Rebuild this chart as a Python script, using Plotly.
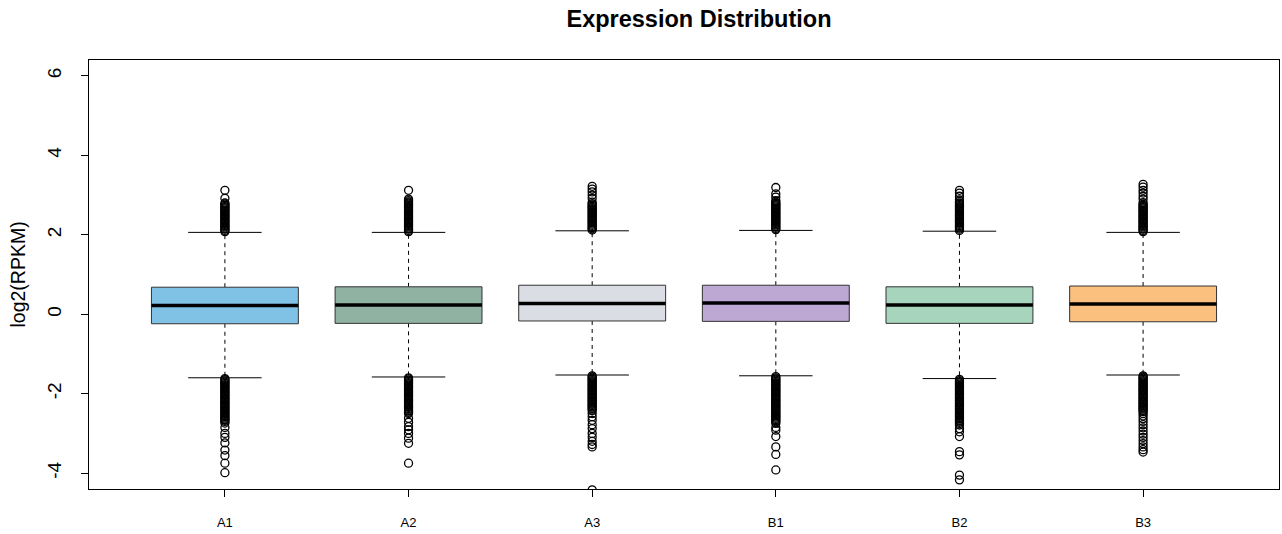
import plotly.graph_objects as go

categories = ["A1", "A2", "A3", "B1", "B2", "B3"]
colors = ["#80C2E6", "#90B2A3", "#DADDE3", "#BDA7D3", "#A7D4BC", "#FBC07E"]

q1 = [-0.24, -0.23, -0.17, -0.18, -0.23, -0.19]
median = [0.22, 0.23, 0.27, 0.28, 0.23, 0.26]
q3 = [0.68, 0.69, 0.73, 0.73, 0.69, 0.71]
upper_whisker = [2.06, 2.06, 2.10, 2.11, 2.09, 2.06]
lower_whisker = [-1.60, -1.58, -1.53, -1.55, -1.62, -1.53]

out_A1 = [2.08, 2.11, 2.14, 2.17, 2.20, 2.23, 2.26, 2.29, 2.32, 2.35, 2.38, 2.41, 2.44, 2.47,
          2.50, 2.53, 2.56, 2.59, 2.62, 2.65, 2.68, 2.71, 2.74, 2.77, 2.80, 2.92, 3.12,
          -1.62, -1.65, -1.68, -1.71, -1.74, -1.77, -1.80, -1.83, -1.86, -1.89, -1.92, -1.95,
          -1.98, -2.01, -2.04, -2.07, -2.10, -2.13, -2.16, -2.19, -2.22, -2.25, -2.28, -2.31,
          -2.34, -2.37, -2.40, -2.43, -2.46, -2.49, -2.52, -2.55, -2.58, -2.61, -2.64, -2.67,
          -2.70, -2.74, -2.85, -3.00, -3.10, -3.24, -3.42, -3.56, -3.75, -3.99]
out_A2 = [2.08, 2.11, 2.14, 2.17, 2.20, 2.23, 2.26, 2.29, 2.32, 2.35, 2.38, 2.41, 2.44, 2.47,
          2.50, 2.53, 2.56, 2.59, 2.62, 2.65, 2.68, 2.71, 2.74, 2.77, 2.80, 2.83, 2.86, 2.90, 3.12,
          -1.60, -1.63, -1.66, -1.69, -1.72, -1.75, -1.78, -1.81, -1.84, -1.87, -1.90, -1.93,
          -1.96, -1.99, -2.02, -2.05, -2.08, -2.11, -2.14, -2.17, -2.20, -2.23, -2.26, -2.29,
          -2.32, -2.35, -2.38, -2.41, -2.44, -2.47, -2.50, -2.62, -2.72, -2.83, -2.91, -3.00,
          -3.12, -3.25, -3.75]
out_A3 = [2.12, 2.15, 2.18, 2.21, 2.24, 2.27, 2.30, 2.33, 2.36, 2.39, 2.42, 2.45, 2.48, 2.51,
          2.54, 2.57, 2.60, 2.63, 2.66, 2.69, 2.72, 2.75, 2.78, 2.82, 2.92, 3.00, 3.08, 3.15, 3.22,
          -1.55, -1.58, -1.61, -1.64, -1.67, -1.70, -1.73, -1.76, -1.79, -1.82, -1.85, -1.88,
          -1.91, -1.94, -1.97, -2.00, -2.03, -2.06, -2.09, -2.12, -2.15, -2.18, -2.21, -2.24,
          -2.27, -2.30, -2.33, -2.36, -2.39, -2.43, -2.50, -2.58, -2.67, -2.78, -2.88, -3.00,
          -3.10, -3.20, -3.28, -3.34, -4.42]
out_B1 = [2.13, 2.16, 2.19, 2.22, 2.25, 2.28, 2.31, 2.34, 2.37, 2.40, 2.43, 2.46, 2.49, 2.52,
          2.55, 2.58, 2.61, 2.64, 2.67, 2.70, 2.73, 2.76, 2.79, 2.82, 2.86, 2.95, 3.03, 3.19,
          -1.57, -1.60, -1.63, -1.66, -1.69, -1.72, -1.75, -1.78, -1.81, -1.84, -1.87, -1.90,
          -1.93, -1.96, -1.99, -2.02, -2.05, -2.08, -2.11, -2.14, -2.17, -2.20, -2.23, -2.26,
          -2.29, -2.32, -2.35, -2.38, -2.41, -2.44, -2.47, -2.50, -2.53, -2.56, -2.59, -2.62,
          -2.65, -2.68, -2.71, -2.75, -2.85, -2.92, -3.08, -3.34, -3.53, -3.92]
out_B2 = [2.11, 2.14, 2.17, 2.20, 2.23, 2.26, 2.29, 2.32, 2.35, 2.38, 2.41, 2.44, 2.47, 2.50,
          2.53, 2.56, 2.59, 2.62, 2.65, 2.68, 2.71, 2.74, 2.77, 2.80, 2.84, 2.88, 2.97, 3.05, 3.12,
          -1.64, -1.67, -1.70, -1.73, -1.76, -1.79, -1.82, -1.85, -1.88, -1.91, -1.94, -1.97,
          -2.00, -2.03, -2.06, -2.09, -2.12, -2.15, -2.18, -2.21, -2.24, -2.27, -2.30, -2.33,
          -2.36, -2.39, -2.42, -2.45, -2.48, -2.51, -2.54, -2.57, -2.60, -2.63, -2.66, -2.69,
          -2.72, -2.75, -2.79, -2.88, -2.96, -3.08, -3.46, -3.54, -4.05, -4.17]
out_B3 = [2.08, 2.11, 2.14, 2.17, 2.20, 2.23, 2.26, 2.29, 2.32, 2.35, 2.38, 2.41, 2.44, 2.47,
          2.50, 2.53, 2.56, 2.59, 2.62, 2.65, 2.68, 2.71, 2.74, 2.77, 2.81, 2.90, 2.97, 3.05,
          3.12, 3.20, 3.27,
          -1.55, -1.58, -1.61, -1.64, -1.67, -1.70, -1.73, -1.76, -1.79, -1.82, -1.85, -1.88,
          -1.91, -1.94, -1.97, -2.00, -2.03, -2.06, -2.09, -2.12, -2.15, -2.18, -2.21, -2.24,
          -2.27, -2.30, -2.33, -2.36, -2.39, -2.42, -2.45, -2.50, -2.56, -2.63, -2.70, -2.78,
          -2.86, -2.94, -3.02, -3.10, -3.18, -3.26, -3.34, -3.41, -3.47]
outliers = [out_A1, out_A2, out_A3, out_B1, out_B2, out_B3]

y_ticks = [-4, -2, 0, 2, 4, 6]
y_range = [-4.4, 6.4]

BOX_HALF = 0.4
CAP_HALF = 0.2

fig = go.Figure()
positions = list(range(1, len(categories) + 1))

# dashed whiskers
wx, wy = [], []
for p, a, b, lo, hi in zip(positions, q1, q3, lower_whisker, upper_whisker):
    wx += [p, p, None, p, p, None]
    wy += [b, hi, None, a, lo, None]
fig.add_trace(go.Scatter(x=wx, y=wy, mode="lines", line=dict(color="black", width=1, dash="4px,4px"),
                         showlegend=False, hoverinfo="skip"))
# caps
cx, cy = [], []
for p, lo, hi in zip(positions, lower_whisker, upper_whisker):
    cx += [p - CAP_HALF, p + CAP_HALF, None, p - CAP_HALF, p + CAP_HALF, None]
    cy += [hi, hi, None, lo, lo, None]
fig.add_trace(go.Scatter(x=cx, y=cy, mode="lines", line=dict(color="black", width=1),
                         showlegend=False, hoverinfo="skip"))

# boxes
for p, a, b, m, col, name in zip(positions, q1, q3, median, colors, categories):
    fig.add_trace(go.Scatter(
        x=[p - BOX_HALF, p + BOX_HALF, p + BOX_HALF, p - BOX_HALF, p - BOX_HALF],
        y=[a, a, b, b, a], mode="lines", fill="toself", fillcolor=col,
        line=dict(color="#333333", width=1), name=name, showlegend=False))
    fig.add_trace(go.Scatter(x=[p - BOX_HALF, p + BOX_HALF], y=[m, m], mode="lines",
                             line=dict(color="black", width=3.5), showlegend=False, hoverinfo="skip"))

# outliers
for p, vals, name in zip(positions, outliers, categories):
    fig.add_trace(go.Scatter(x=[p] * len(vals), y=vals, mode="markers", name=name,
                             marker=dict(symbol="circle-open", size=8, color="black",
                                         line=dict(width=1.3)),
                             showlegend=False, cliponaxis=True))

font_family = "Liberation Sans, Arial, sans-serif"
fig.update_layout(
    width=1282, height=534,
    margin=dict(l=89, r=3, t=60, b=45, autoexpand=False),
    paper_bgcolor="white", plot_bgcolor="white",
    font=dict(family=font_family, color="black"),
    title=dict(text="<b>Expression Distribution</b>", x=699 / 1282, xanchor="center",
               y=1 - 19 / 534, yanchor="middle", yref="container",
               font=dict(size=23.5, family=font_family, color="black")),
    xaxis=dict(range=[0.26, 6.74], tickmode="array", tickvals=positions, ticktext=categories,
               showgrid=False, zeroline=False, showline=True, mirror=True, linecolor="black",
               linewidth=1, ticks="outside", ticklen=7, tickcolor="black", automargin=False,
               tickfont=dict(size=13), ticklabelstandoff=14),
    yaxis=dict(range=y_range, tickmode="array", tickvals=y_ticks,
               ticktext=[str(v) for v in y_ticks], tickangle=-90, automargin=False,
               showgrid=False, zeroline=False, showline=True, mirror=True, linecolor="black",
               linewidth=1, ticks="outside", ticklen=7, tickcolor="black",
               tickfont=dict(size=19), ticklabelstandoff=12),
    annotations=[dict(text="log2(RPKM)", xref="paper", yref="paper", x=-(89 - 17) / 1190, y=0.5,
                      xanchor="center", yanchor="middle", textangle=-90, showarrow=False,
                      font=dict(size=19.5, family=font_family, color="black"))],
)

fig.write_html("out.html")
